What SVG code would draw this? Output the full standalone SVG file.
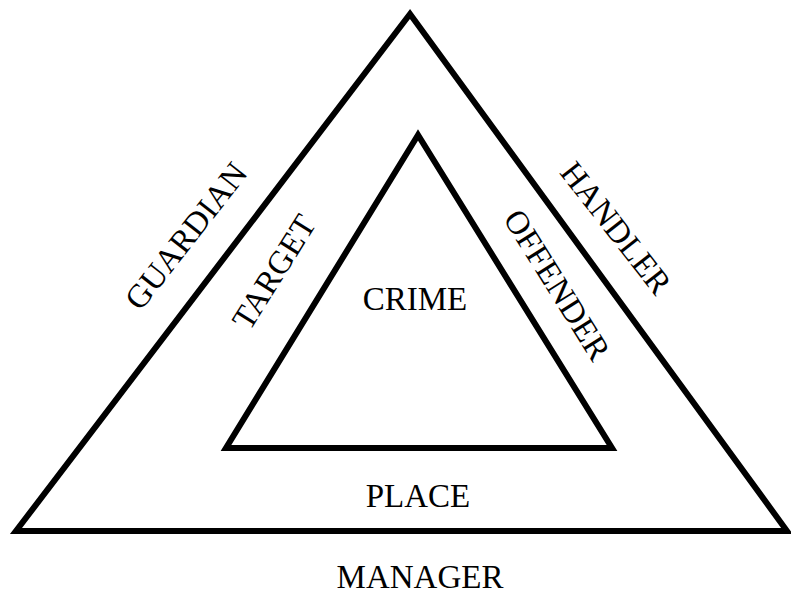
<svg xmlns="http://www.w3.org/2000/svg" width="791" height="597" viewBox="0 0 791 597">
<style>
.tri{fill:none;stroke:#000;stroke-width:6;stroke-linejoin:miter}
.t{font-family:"Liberation Serif","Times New Roman",serif;font-size:33px;fill:#000;text-anchor:middle}
</style>
<rect width="791" height="597" fill="#fff"/>
<g id="connectors">
<polygon id="outer" class="tri" points="410,14 16,531 787,531"/>
<polygon id="inner" class="tri" points="418,135 226,448 612,448"/>
</g>
<g id="crime"><text class="t" x="415" y="310">CRIME</text></g>
<g id="place"><text class="t" x="418" y="507">PLACE</text></g>
<g id="manager"><text class="t" x="420" y="588">MANAGER</text></g>
<g id="guardian"><text class="t" transform="translate(186,236) rotate(-52)" x="0" y="11">GUARDIAN</text></g>
<g id="target"><text class="t" transform="translate(274,272) rotate(-58)" x="0" y="11">TARGET</text></g>
<g id="offender"><text class="t" transform="translate(557,285) rotate(58)" x="0" y="11">OFFENDER</text></g>
<g id="handler"><text class="t" transform="translate(616,228) rotate(52)" x="0" y="11">HANDLER</text></g>
</svg>
